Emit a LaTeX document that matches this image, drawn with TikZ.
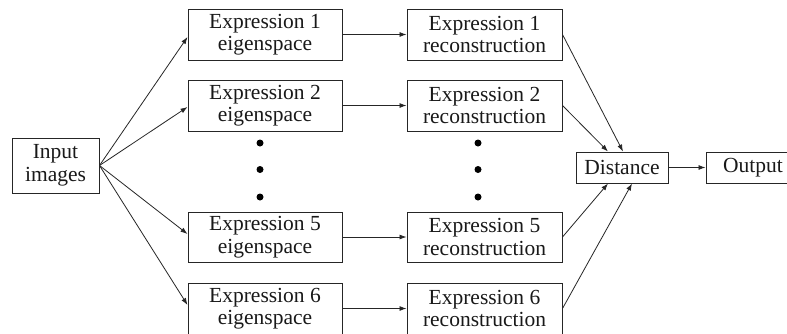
\documentclass[tikz,border=0pt]{standalone}
\usepackage{fontspec}
\setmainfont{Liberation Serif}
\usetikzlibrary{arrows.meta}
\begin{document}
\begin{tikzpicture}[x=1pt,y=-1pt,
  box/.style={draw=black!85,line width=1pt,inner sep=0pt,align=center,
    font=\fontsize{21.5}{22.5}\selectfont,text=black!90},
  eig/.style={box,minimum width=154pt,minimum height=51pt},
  rec/.style={box,minimum width=155pt,minimum height=51pt},
  small/.style={box,minimum width=92pt,minimum height=31pt},
  dotnode/.style={circle,fill=black,inner sep=0pt,minimum size=7pt},
  arr/.style={draw=black!85,line width=0.8pt,-{Latex[length=7pt,width=5pt]}}]
\useasboundingbox (0,0) rectangle (787,333);
\clip (0,0) rectangle (787,333);
\fill[white] (0,0) rectangle (787,333);
\node[box,minimum width=87pt,minimum height=55pt] (in) at (55.5,165.5) {Input\\images};
\node[eig] (e1) at (265,34.5) {Expression 1\\eigenspace};
\node[eig] (e2) at (265,105.5) {Expression 2\\eigenspace};
\node[eig,minimum height=50pt] (e5) at (265,237) {Expression 5\\eigenspace};
\node[eig] (e6) at (265,308.5) {Expression 6\\eigenspace};
\node[rec] (r1) at (484.5,34.5) {Expression 1\\reconstruction};
\node[rec] (r2) at (484.5,105.5) {Expression 2\\reconstruction};
\node[rec,minimum height=50pt] (r5) at (484.5,237) {Expression 5\\reconstruction};
\node[rec] (r6) at (484.5,308.5) {Expression 6\\reconstruction};
\node[small] (dist) at (622,167.5) {Distance};
\node[small,minimum width=94pt] (out) at (753,167.5) {Output};
\node[dotnode] (ea) at (260,143) {};
\node[dotnode] (eb) at (260,169.5) {};
\node[dotnode] (ec) at (260,197) {};
\node[dotnode] (ra) at (478,143) {};
\node[dotnode] (rb) at (478,169.5) {};
\node[dotnode] (rc) at (478,197) {};
\draw[arr] (in.east) -- ([yshift=-2.5pt]e1.west);
\draw[arr] (in.east) -- ([yshift=-1.5pt]e2.west);
\draw[arr] (in.east) -- ([yshift=3pt]e5.west);
\draw[arr] (in.east) -- ([yshift=3.5pt]e6.west);
\draw[arr] (e1.east) -- (r1.west);
\draw[arr] (e2.east) -- (r2.west);
\draw[arr] (e5.east) -- (r5.west);
\draw[arr] (e6.east) -- (r6.west);
\draw[arr] (r1.east) -- ([xshift=1pt]dist.north);
\draw[arr] (r2.east) -- ([xshift=-14pt]dist.north);
\draw[arr] (r5.east) -- ([xshift=-14pt]dist.south);
\draw[arr] (r6.east) -- ([xshift=10pt]dist.south);
\draw[arr] (dist.east) -- (out.west);
\end{tikzpicture}
\end{document}
